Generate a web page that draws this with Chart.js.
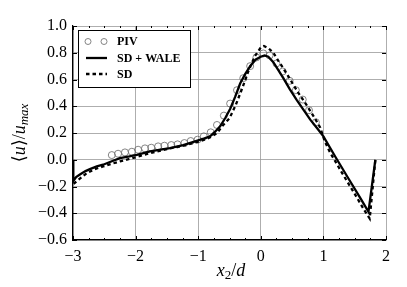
<!DOCTYPE html>
<html>
<head>
<meta charset="utf-8">
<script src="https://cdn.jsdelivr.net/npm/chart.js@4.4.0/dist/chart.umd.min.js"></script>
<style>
  html, body { margin: 0; padding: 0; background: #fff; }
  #c { display: block; }
</style>
</head>
<body>
<canvas id="c" width="407" height="287"></canvas>
<script>
'use strict';

// ── Data ──
const pivX = [-2.38, -2.28, -2.17, -2.06, -1.96, -1.85, -1.75, -1.64, -1.54, -1.43, -1.33, -1.22, -1.12, -1.01,
  -0.91, -0.80, -0.70, -0.59, -0.49, -0.38, -0.28, -0.17, -0.07, 0.04, 0.14, 0.25, 0.35, 0.46, 0.56, 0.67, 0.77, 0.88];
const pivY = [0.035, 0.045, 0.055, 0.06, 0.075, 0.085, 0.09, 0.10, 0.105, 0.11, 0.115, 0.125, 0.14, 0.15,
  0.175, 0.205, 0.26, 0.33, 0.42, 0.52, 0.61, 0.70, 0.765, 0.795, 0.78, 0.72, 0.66, 0.59, 0.52, 0.45, 0.37, 0.28];

const waleX = [-2.995, -2.995, -2.95, -2.89, -2.8, -2.73, -2.62, -2.52, -2.4, -2.25, -2.1, -1.98, -1.77, -1.6, -1.45, -1.24,
  -1.1, -1.0, -0.9, -0.81, -0.73, -0.65, -0.57, -0.49, -0.41, -0.33, -0.25, -0.17, -0.08, 0.0, 0.06, 0.12, 0.2,
  0.28, 0.36, 0.46, 0.57, 0.68, 0.79, 0.9, 1.0, 1.2, 1.4, 1.6, 1.72, 1.83];
const waleY = [0.0, -0.16, -0.13, -0.11, -0.085, -0.07, -0.05, -0.037, -0.015, 0.012, 0.025, 0.037, 0.062, 0.075, 0.087, 0.11,
  0.13, 0.145, 0.16, 0.175, 0.21, 0.25, 0.31, 0.38, 0.47, 0.57, 0.64, 0.70, 0.75, 0.77, 0.78, 0.77, 0.73,
  0.67, 0.61, 0.53, 0.45, 0.375, 0.30, 0.235, 0.175, 0.015, -0.14, -0.295, -0.39, 0.0];

const sdX = [-2.99, -2.94, -2.86, -2.78, -2.65, -2.52, -2.38, -2.25, -2.04, -1.8, -1.5, -1.2, -1.0, -0.9, -0.8, -0.7,
  -0.6, -0.5, -0.4, -0.3, -0.2, -0.1, 0.0, 0.05, 0.12, 0.2, 0.28, 0.35, 0.47, 0.6, 0.73, 0.85, 0.95, 1.02,
  1.1, 1.3, 1.5, 1.65, 1.74, 1.83];
const sdY = [-0.18, -0.16, -0.13, -0.1, -0.07, -0.05, -0.03, -0.012, 0.013, 0.045, 0.08, 0.11, 0.135, 0.15, 0.17, 0.2,
  0.26, 0.31, 0.41, 0.53, 0.66, 0.77, 0.84, 0.85, 0.835, 0.80, 0.74, 0.69, 0.60, 0.50, 0.41, 0.32, 0.24, 0.14,
  0.06, -0.1, -0.255, -0.375, -0.44, 0.0];

const xTicks = [-3, -2, -1, 0, 1, 2];
const yTicks = [-0.6, -0.4, -0.2, 0.0, 0.2, 0.4, 0.6, 0.8, 1.0];
const legendLabels = ['PIV', 'SD + WALE', 'SD'];

const SERIF = "'Liberation Serif', 'DejaVu Serif', serif";
const pts = (xs, ys) => xs.map((x, i) => ({ x: x, y: ys[i] }));
const minus = (s) => s.replace('-', '\u2212');

// ── Inward ticks, legend box, axis titles ──
const decorations = {
  id: 'decorations',
  afterDraw(chart) {
    const { ctx, chartArea: a, scales } = chart;
    const sx = scales.x, sy = scales.y;
    ctx.save();
    ctx.strokeStyle = '#000';
    ctx.lineWidth = 1;
    ctx.beginPath();
    for (let v = -3; v <= 2.001; v += 0.25) {
      const px = Math.round(sx.getPixelForValue(v)) + 0.5;
      const len = Math.abs(v - Math.round(v)) < 1e-6 ? 4 : 2;
      ctx.moveTo(px, a.bottom); ctx.lineTo(px, a.bottom - len);
      ctx.moveTo(px, a.top); ctx.lineTo(px, a.top + len);
    }
    yTicks.forEach((v) => {
      const py = Math.round(sy.getPixelForValue(v)) + 0.5;
      ctx.moveTo(a.left, py); ctx.lineTo(a.left + 4, py);
      ctx.moveTo(a.right, py); ctx.lineTo(a.right - 4, py);
    });
    ctx.stroke();

    // legend
    const lx = 78.5, ly = 30.5, lw = 112, lh = 57;
    ctx.fillStyle = '#fff';
    ctx.fillRect(lx, ly, lw, lh);
    ctx.strokeRect(lx, ly, lw, lh);
    const rows = [41.5, 58, 74];
    ctx.strokeStyle = '#666';
    ctx.lineWidth = 0.8;
    [88, 104].forEach((cx) => {
      ctx.beginPath(); ctx.arc(cx, rows[0], 3, 0, Math.PI * 2); ctx.stroke();
    });
    ctx.strokeStyle = '#000';
    ctx.lineWidth = 2.3;
    ctx.beginPath(); ctx.moveTo(86, rows[1]); ctx.lineTo(107, rows[1]); ctx.stroke();
    ctx.setLineDash([3.5, 3]);
    ctx.beginPath(); ctx.moveTo(86, rows[2]); ctx.lineTo(107, rows[2]); ctx.stroke();
    ctx.setLineDash([]);
    ctx.fillStyle = '#000';
    ctx.font = 'bold 12px ' + SERIF;
    ctx.textBaseline = 'middle';
    ctx.textAlign = 'left';
    legendLabels.forEach((t, i) => ctx.fillText(t, 117, rows[i] + 0.5));

    // axis titles with subscripts
    const drawParts = (parts, x, y) => {
      let w = 0;
      parts.forEach((p) => { ctx.font = p.f; w += ctx.measureText(p.t).width; });
      let cx = x - w / 2;
      parts.forEach((p) => {
        ctx.font = p.f;
        ctx.fillText(p.t, cx, y + (p.dy || 0));
        cx += ctx.measureText(p.t).width;
      });
    };
    ctx.textBaseline = 'alphabetic';
    const it = 'italic 18px ' + SERIF, rm = '18px ' + SERIF, sub = 'italic 13px ' + SERIF, subr = '13px ' + SERIF;
    drawParts([{ t: 'x', f: it }, { t: '2', f: subr, dy: 3 }, { t: '/', f: rm }, { t: 'd', f: it }], 231, 276);
    ctx.translate(25, 133);
    ctx.rotate(-Math.PI / 2);
    drawParts([{ t: '\u27E8', f: rm }, { t: 'u', f: it }, { t: '\u27E9', f: rm }, { t: '/', f: rm },
      { t: 'u', f: it }, { t: 'max', f: sub, dy: 3 }], 0, 0);
    ctx.restore();
  },
};

new Chart(document.getElementById('c'), {
  type: 'scatter',
  data: {
    datasets: [
      {
        label: legendLabels[1],
        data: pts(waleX, waleY),
        showLine: true,
        borderColor: '#000',
        borderWidth: 2.3,
        pointRadius: 0,
        tension: 0,
        order: 1,
      },
      {
        label: legendLabels[2],
        data: pts(sdX, sdY),
        showLine: true,
        borderColor: '#000',
        borderWidth: 2.3,
        borderDash: [3.5, 3],
        pointRadius: 0,
        tension: 0,
        order: 2,
      },
      {
        label: legendLabels[0],
        data: pts(pivX, pivY),
        showLine: false,
        pointRadius: 3.5,
        pointBorderWidth: 0.8,
        pointBorderColor: '#666',
        pointBackgroundColor: 'rgba(255,255,255,0)',
        order: 3,
      },
    ],
  },
  options: {
    responsive: false,
    animation: false,
    layout: { padding: { top: 26, right: 21, left: 0, bottom: 0 } },
    plugins: { legend: { display: false }, tooltip: { enabled: false } },
    scales: {
      x: {
        type: 'linear', min: -3, max: 2,
        afterFit: (s) => { s.height = 47; },
        afterBuildTicks: (s) => { s.ticks = xTicks.map((v) => ({ value: v })); },
        grid: { color: '#999', lineWidth: 0.8, borderDash: [1, 2], drawTicks: false },
        border: { color: '#000', width: 1.2 },
        ticks: {
          color: '#000', padding: 7,
          font: { family: SERIF, size: 16 },
          callback: (v) => minus(String(Math.round(v))),
        },
      },
      y: {
        type: 'linear', min: -0.6, max: 1.0,
        afterFit: (s) => { s.width = 73; },
        afterBuildTicks: (s) => { s.ticks = yTicks.map((v) => ({ value: v })); },
        grid: { color: '#999', lineWidth: 0.8, borderDash: [1, 2], drawTicks: false },
        border: { color: '#000', width: 1.2 },
        ticks: {
          color: '#000', padding: 6,
          font: { family: SERIF, size: 16 },
          callback: (v) => minus((Math.round(v * 10) / 10).toFixed(1)),
        },
      },
    },
  },
  plugins: [decorations],
});
</script>
</body>
</html>
